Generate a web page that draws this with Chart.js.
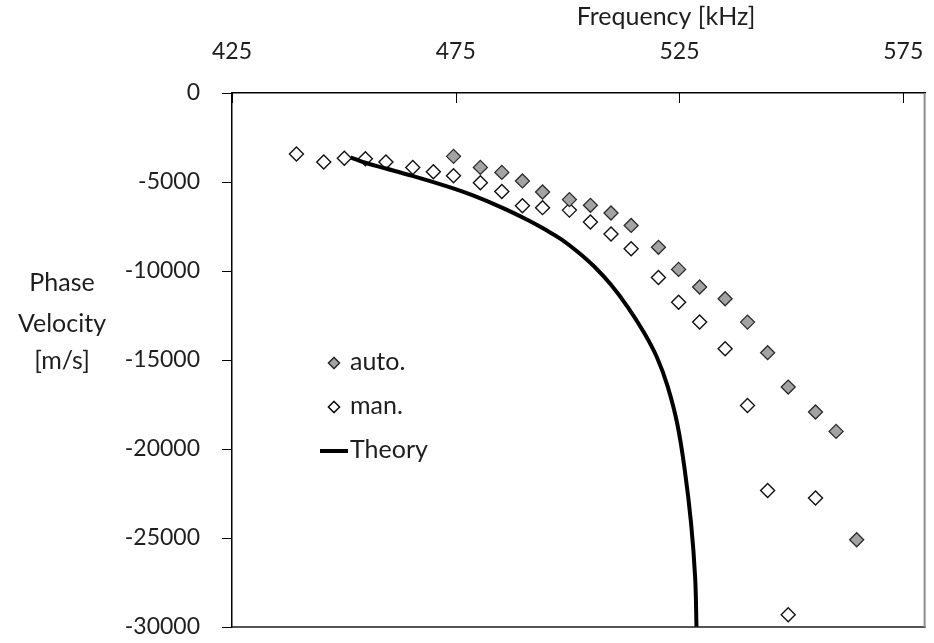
<!DOCTYPE html>
<html>
<head>
<meta charset="utf-8">
<script src="https://cdn.jsdelivr.net/npm/chart.js@4/dist/chart.umd.min.js"></script>
<style>
  html, body { margin: 0; padding: 0; background: #fff; }
  #wrap { width: 934px; height: 643px; position: relative; }
</style>
</head>
<body>
<div id="wrap"><canvas id="c" width="934" height="643"></canvas></div>
<script>
// Frequency [kHz] / phase velocity [m/s] samples
const autoFreq = [474.5, 480.5, 485.3, 489.9, 494.4, 500.4, 505.1, 509.7, 514.2, 520.3, 524.8, 529.5, 535.2, 540.2, 544.7, 549.3, 555.4, 560.0, 564.6];
const autoVel  = [-3560, -4180, -4460, -4940, -5560, -5990, -6310, -6740, -7440, -8670, -9910, -10900, -11560, -12870, -14590, -16520, -17920, -19010, -25100];

const manFreq = [439.4, 445.5, 450.1, 454.8, 459.4, 465.4, 470.0, 474.5, 480.5, 485.3, 489.9, 494.4, 500.4, 505.1, 509.7, 514.2, 520.3, 524.8, 529.5, 535.2, 540.2, 544.7, 549.3, 555.4];
const manVel  = [-3430, -3880, -3670, -3690, -3880, -4180, -4420, -4650, -5040, -5530, -6330, -6440, -6580, -7250, -7920, -8750, -10360, -11760, -12870, -14370, -17550, -22330, -29310, -22750];

const theoryFreq = [451.5, 454.8, 459.4, 465.3, 472.7, 476.4, 480.1, 483.8, 487.5, 491.2, 494.9, 498.6, 502.3, 506.0, 509.7, 513.4, 517.1, 520.0, 522.3, 524.5, 526.2, 527.6, 528.5, 528.8];
const theoryVel  = [-3610, -3920, -4240, -4660, -5220, -5530, -5880, -6270, -6690, -7150, -7660, -8220, -8930, -9760, -10770, -12010, -13470, -14870, -16440, -18580, -21220, -24200, -27230, -30000];

const freqTicks = [425, 475, 525, 575];
const freqRange = [425, 580];
const velRange = [-30000, 0];
const velStep = 5000;

const seriesNames = ['auto.', 'man.', 'Theory'];
const xTitle = 'Frequency [kHz]';
const yTitleLines = ['Phase', 'Velocity', '[m/s]'];

const FONT = 'Lato, "Open Sans", sans-serif';
const TEXT = '#1e1e1e';

const pts = (xs, ys) => xs.map((x, i) => ({ x: x, y: ys[i] }));

// Extra drawing: inward ticks on the top axis, frame lines, axis titles and the legend block
const decor = {
  id: 'decor',
  afterDraw(chart) {
    const ctx = chart.ctx;
    const a = chart.chartArea;
    const xs = chart.scales.x;
    ctx.save();
    // inward tick marks on the frequency axis
    ctx.strokeStyle = '#000';
    ctx.lineWidth = 1;
    xs.ticks.forEach(t => {
      const px = Math.round(xs.getPixelForValue(t.value)) + 0.5;
      ctx.beginPath();
      ctx.moveTo(px, a.top);
      ctx.lineTo(px, a.top + 10);
      ctx.stroke();
    });
    // bottom and right frame lines
    ctx.strokeStyle = '#1a1a1a';
    ctx.lineWidth = 1.5;
    ctx.beginPath();
    ctx.moveTo(a.left, a.bottom);
    ctx.lineTo(a.right, a.bottom);
    ctx.stroke();
    ctx.strokeStyle = '#8c8c8c';
    ctx.lineWidth = 2;
    ctx.beginPath();
    ctx.moveTo(a.right - 1, a.top);
    ctx.lineTo(a.right - 1, a.bottom);
    ctx.stroke();

    // axis titles
    ctx.fillStyle = TEXT;
    ctx.font = '25px ' + FONT;
    ctx.textAlign = 'center';
    ctx.textBaseline = 'middle';
    ctx.fillText(xTitle, 666, 17);
    const lineY = [283, 324, 361];
    yTitleLines.forEach((s, i) => ctx.fillText(s, 62, lineY[i]));

    // legend
    const ds = chart.data.datasets;
    const lx = 334, ly = [363, 407, 451];
    [0, 1].forEach(i => {
      const d = ds[i];
      ctx.fillStyle = d.pointBackgroundColor;
      ctx.strokeStyle = d.pointBorderColor;
      ctx.lineWidth = d.pointBorderWidth;
      Chart.helpers.drawPoint(ctx, { pointStyle: 'rectRot', radius: 5.5, borderWidth: d.pointBorderWidth }, lx, ly[i]);
      ctx.fill();
      ctx.stroke();
    });
    ctx.strokeStyle = ds[2].borderColor;
    ctx.lineWidth = ds[2].borderWidth;
    ctx.beginPath();
    ctx.moveTo(320, ly[2]);
    ctx.lineTo(348, ly[2]);
    ctx.stroke();
    ctx.fillStyle = TEXT;
    ctx.textAlign = 'left';
    seriesNames.forEach((s, i) => ctx.fillText(s, 350, ly[i] - 1));
    ctx.restore();
  }
};

new Chart(document.getElementById('c'), {
  type: 'scatter',
  data: {
    datasets: [
      {
        label: seriesNames[0],
        data: pts(autoFreq, autoVel),
        pointStyle: 'rectRot',
        pointRadius: 7,
        pointBackgroundColor: '#a3a3a3',
        pointBorderColor: '#2b2b2b',
        pointBorderWidth: 1.3,
        showLine: false,
        order: 1
      },
      {
        label: seriesNames[1],
        data: pts(manFreq, manVel),
        pointStyle: 'rectRot',
        pointRadius: 7,
        pointBackgroundColor: '#ffffff',
        pointBorderColor: '#111111',
        pointBorderWidth: 1.4,
        showLine: false,
        order: 2
      },
      {
        label: seriesNames[2],
        data: pts(theoryFreq, theoryVel),
        showLine: true,
        borderColor: '#000000',
        borderWidth: 4,
        pointRadius: 0,
        tension: 0.4,
        borderCapStyle: 'butt',
        borderJoinStyle: 'round',
        fill: false,
        order: 0
      }
    ]
  },
  options: {
    responsive: false,
    animation: false,
    events: [],
    layout: { padding: { left: 0, top: 0, right: 5, bottom: 16 } },
    plugins: { legend: { display: false }, tooltip: { enabled: false }, title: { display: false } },
    scales: {
      x: {
        type: 'linear',
        position: 'top',
        min: freqRange[0],
        max: freqRange[1],
        afterBuildTicks(scale) { scale.ticks = freqTicks.map(v => ({ value: v })); },
        afterFit(scale) {
          scale.height = 93;
          scale.paddingLeft = 0; scale.paddingRight = 0;
        },
        grid: { display: true, drawOnChartArea: false, drawTicks: false },
        border: { display: true, color: '#000', width: 1.5 },
        ticks: { padding: 28, color: TEXT, font: { family: FONT, size: 23 }, maxRotation: 0, autoSkip: false }
      },
      y: {
        type: 'linear',
        position: 'left',
        min: velRange[0],
        max: velRange[1],
        afterFit(scale) {
          scale.width = 232;
          scale.paddingTop = 0; scale.paddingBottom = 0;
        },
        grid: { display: true, drawOnChartArea: false, drawTicks: true, tickLength: 10, color: '#000' },
        border: { display: true, color: '#000', width: 1.5 },
        ticks: { stepSize: velStep, padding: 22, color: TEXT, font: { family: FONT, size: 23 }, callback: v => String(v) }
      }
    }
  },
  plugins: [decor]
});
</script>
</body>
</html>
